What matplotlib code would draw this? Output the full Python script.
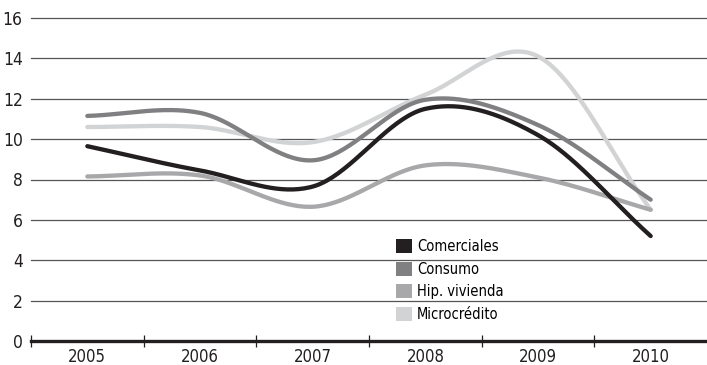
import numpy as np
import matplotlib.pyplot as plt
from matplotlib.patches import Patch

plt.rcParams['font.family'] = ['DejaVu Sans']
plt.rcParams['font.stretch'] = 'condensed'

years = ["2005", "2006", "2007", "2008", "2009", "2010"]
comerciales = [9.65, 8.45, 7.65, 11.5, 10.2, 5.2]
consumo = [11.15, 11.3, 8.95, 11.95, 10.7, 7.0]
hip_vivienda = [8.15, 8.2, 6.65, 8.7, 8.1, 6.5]
microcredito = [10.6, 10.6, 9.85, 12.2, 14.1, 6.5]

series = [
    ("Comerciales", comerciales, "#231f20"),
    ("Consumo", consumo, "#808082"),
    ("Hip. vivienda", hip_vivienda, "#a8a8aa"),
    ("Microcrédito", microcredito, "#d2d3d4"),
]


def smooth(y, n=40):
    # catmull-rom spline through the points
    y = np.asarray(y, dtype=float)
    x = np.arange(len(y), dtype=float)
    m = np.zeros_like(y)
    m[1:-1] = (y[2:] - y[:-2]) / 2
    m[0] = y[1] - y[0]
    m[-1] = y[-1] - y[-2]
    xs, ys = [], []
    for i in range(len(y) - 1):
        t = np.linspace(0, 1, n, endpoint=(i == len(y) - 2))
        h00 = 2 * t**3 - 3 * t**2 + 1
        h10 = t**3 - 2 * t**2 + t
        h01 = -2 * t**3 + 3 * t**2
        h11 = t**3 - t**2
        xs.append(x[i] + t)
        ys.append(h00 * y[i] + h10 * m[i] + h01 * y[i + 1] + h11 * m[i + 1])
    return np.concatenate(xs), np.concatenate(ys)


fig = plt.figure(figsize=(7.07, 3.65), dpi=100)
ax = fig.add_axes([31 / 707, 24 / 365, 676 / 707, 323 / 365])

for v in range(2, 17, 2):
    ax.axhline(v, color="#555555", lw=0.9, zorder=1, clip_on=False)

handles = []
for name, vals, col in series[::-1]:
    xs, ys = smooth(vals)
    ax.plot(xs, ys, color=col, lw=3.1, solid_capstyle="round", zorder=3)
for name, vals, col in series:
    handles.append(Patch(facecolor=col, edgecolor="none", label=name))

ax.set_xlim(-0.5, 5.5)
ax.set_ylim(0, 16)
for s in ["top", "right", "left"]:
    ax.spines[s].set_visible(False)
ax.spines["bottom"].set_linewidth(2.4)
ax.spines["bottom"].set_color("#231f20")
ax.spines["bottom"].set_zorder(4)

ax.set_xticks(range(len(years)))
ax.set_xticklabels(years, fontsize=12)
ax.set_xticks([-0.5, 0.5, 1.5, 2.5, 3.5, 4.5], minor=True)
ax.tick_params(axis="x", which="major", length=0, pad=5, colors="#231f20")
ax.tick_params(axis="x", which="minor", length=8, width=0.9, direction="inout",
               color="#231f20")
ax.set_yticks(range(0, 17, 2))
ax.set_yticklabels([str(v) for v in range(0, 17, 2)], fontsize=12.5)
ax.tick_params(axis="y", length=0, pad=6, colors="#231f20")

ax.legend(handles=handles, loc="upper left", bbox_to_anchor=(396 / 707, 1 - 239 / 365),
          bbox_transform=fig.transFigure, frameon=False, fontsize=10.5,
          handlelength=1.1, handleheight=1.1, handletextpad=0.35,
          labelspacing=0.52, borderpad=0, borderaxespad=0)

fig.savefig("out.png", dpi=100)
